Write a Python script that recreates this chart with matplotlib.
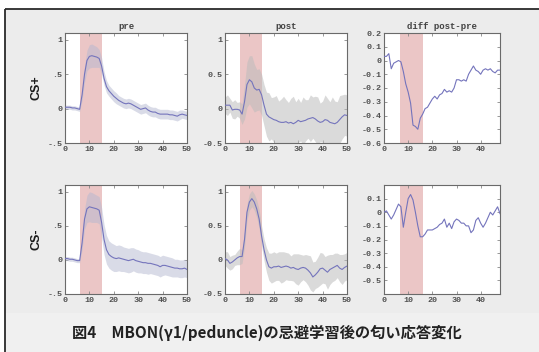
import numpy as np
import matplotlib
matplotlib.use("Agg")
import matplotlib.pyplot as plt
from matplotlib.patches import Rectangle

# ---------------- data ----------------
t = list(range(0, 51))          # time axis for pre/post panels
t_diff = list(range(0, 49))     # time axis for diff panels

pre_plus = [0.02, 0.02, 0.02, 0.01, 0.01, 0.0, -0.01, 0.2, 0.5, 0.7, 0.76, 0.77, 0.76, 0.75, 0.73,
            0.62, 0.44, 0.32, 0.26, 0.22, 0.18, 0.15, 0.12, 0.1, 0.08, 0.07, 0.08, 0.07, 0.05, 0.03,
            0.01, -0.01, 0.0, 0.01, -0.02, -0.04, -0.05, -0.05, -0.07, -0.08, -0.08, -0.08, -0.08,
            -0.09, -0.09, -0.1, -0.11, -0.09, -0.08, -0.09, -0.1]
pre_plus_sem = [0.03, 0.03, 0.03, 0.03, 0.03, 0.03, 0.03, 0.08, 0.12, 0.15, 0.17, 0.17, 0.16, 0.15,
                0.13, 0.12, 0.1, 0.09, 0.08, 0.08, 0.08, 0.08, 0.07, 0.07, 0.07, 0.07, 0.07, 0.07,
                0.07, 0.07, 0.07, 0.07, 0.07, 0.07, 0.07, 0.07, 0.07, 0.07, 0.07, 0.07, 0.07, 0.07,
                0.07, 0.07, 0.07, 0.07, 0.07, 0.07, 0.06, 0.06, 0.06]

pre_minus = [0.02, 0.02, 0.01, 0.01, 0.0, -0.01, -0.01, 0.25, 0.6, 0.75, 0.78, 0.77, 0.76, 0.75, 0.73,
             0.55, 0.3, 0.15, 0.08, 0.05, 0.03, 0.02, 0.03, 0.02, 0.01, 0.0, -0.01, 0.0, 0.01, -0.01,
             -0.02, -0.03, -0.04, -0.04, -0.05, -0.05, -0.06, -0.07, -0.08, -0.1, -0.08, -0.08, -0.09,
             -0.1, -0.11, -0.12, -0.12, -0.13, -0.13, -0.12, -0.14]
pre_minus_sem = [0.03, 0.03, 0.03, 0.03, 0.03, 0.03, 0.03, 0.1, 0.15, 0.2, 0.22, 0.22, 0.21, 0.2, 0.2,
                 0.22, 0.22, 0.21, 0.2, 0.2, 0.2, 0.19, 0.19, 0.19, 0.18, 0.18, 0.18, 0.18, 0.17, 0.17,
                 0.17, 0.16, 0.16, 0.16, 0.16, 0.15, 0.15, 0.15, 0.15, 0.15, 0.15, 0.14, 0.14, 0.14,
                 0.14, 0.13, 0.13, 0.13, 0.13, 0.13, 0.12]

post_plus = [0.05, 0.05, 0.05, -0.02, -0.01, -0.01, -0.02, -0.08, 0.1, 0.35, 0.42, 0.39, 0.3, 0.27,
             0.28, 0.2, 0.05, -0.08, -0.12, -0.14, -0.16, -0.17, -0.19, -0.2, -0.2, -0.19, -0.21,
             -0.2, -0.22, -0.2, -0.17, -0.19, -0.18, -0.17, -0.15, -0.14, -0.13, -0.15, -0.18, -0.2,
             -0.19, -0.16, -0.17, -0.2, -0.21, -0.22, -0.2, -0.16, -0.12, -0.09, -0.1]
post_plus_sem = [0.12, 0.15, 0.1, 0.12, 0.14, 0.1, 0.12, 0.15, 0.25, 0.33, 0.35, 0.38, 0.35, 0.3, 0.3,
                 0.3, 0.3, 0.32, 0.35, 0.3, 0.33, 0.36, 0.3, 0.34, 0.38, 0.32, 0.3, 0.35, 0.4, 0.3,
                 0.32, 0.28, 0.35, 0.3, 0.28, 0.34, 0.3, 0.33, 0.35, 0.28, 0.3, 0.36, 0.32, 0.3, 0.38,
                 0.33, 0.3, 0.35, 0.32, 0.3, 0.3]

post_minus = [0.02, 0.0, -0.05, -0.03, 0.0, 0.03, 0.05, 0.05, 0.3, 0.7, 0.85, 0.9, 0.85, 0.75, 0.6,
              0.35, 0.15, 0.0, -0.1, -0.12, -0.1, -0.1, -0.09, -0.11, -0.1, -0.09, -0.1, -0.12, -0.11,
              -0.13, -0.14, -0.12, -0.11, -0.12, -0.15, -0.19, -0.25, -0.22, -0.18, -0.13, -0.12,
              -0.15, -0.18, -0.14, -0.12, -0.1, -0.08, -0.12, -0.14, -0.11, -0.09]
post_minus_sem = [0.1, 0.12, 0.1, 0.1, 0.08, 0.1, 0.12, 0.1, 0.12, 0.12, 0.12, 0.12, 0.12, 0.13, 0.14,
                  0.15, 0.16, 0.18, 0.2, 0.22, 0.22, 0.2, 0.21, 0.23, 0.22, 0.2, 0.2, 0.18, 0.2, 0.22,
                  0.23, 0.2, 0.18, 0.2, 0.22, 0.25, 0.22, 0.2, 0.22, 0.24, 0.22, 0.2, 0.25, 0.22, 0.2,
                  0.2, 0.18, 0.2, 0.22, 0.2, 0.2]

diff_plus = [0.03, 0.03, 0.05, -0.06, -0.02, -0.01, 0.0, -0.01, -0.08, -0.17, -0.23, -0.31, -0.47,
             -0.48, -0.5, -0.42, -0.39, -0.35, -0.34, -0.31, -0.28, -0.26, -0.28, -0.25, -0.24,
             -0.21, -0.23, -0.22, -0.23, -0.2, -0.14, -0.14, -0.15, -0.14, -0.15, -0.1, -0.07,
             -0.04, -0.07, -0.08, -0.1, -0.07, -0.06, -0.07, -0.06, -0.08, -0.09, -0.07, -0.07]
diff_minus = [0.0, 0.01, -0.02, -0.05, -0.02, 0.02, 0.06, 0.04, -0.11, 0.0, 0.1, 0.13, 0.09, 0.0,
              -0.1, -0.18, -0.18, -0.16, -0.13, -0.13, -0.13, -0.12, -0.11, -0.09, -0.08, -0.05,
              -0.11, -0.08, -0.12, -0.07, -0.05, -0.06, -0.08, -0.08, -0.1, -0.1, -0.15, -0.13,
              -0.06, -0.04, -0.08, -0.11, -0.08, -0.04, 0.0, -0.02, 0.01, 0.04, -0.01]

odor_window = (6, 15)
odor_window_diff = (6.5, 16)
col_titles = ["pre", "post", "diff post-pre"]
row_labels = ["CS+", "CS-"]
caption = "図4　MBON(γ1/peduncle)の忌避学習後の匂い応答変化"

# ---------------- figure ----------------
W, H = 539, 352
fig = plt.figure(figsize=(W / 100, H / 100), dpi=100)

# background (screenshot frame)
bg = fig.add_axes([0, 0, 1, 1], zorder=-10)
bg.set_xlim(0, W)
bg.set_ylim(H, 0)
bg.axis("off")
bg.add_patch(Rectangle((0, 0), W, H, color="white"))
bg.add_patch(Rectangle((5, 9), W, H, color="#ececec"))
grad = np.linspace(0, 1, 256).reshape(-1, 1)
top_c = np.array([0.905, 0.905, 0.905])
bot_c = np.array([0.78, 0.78, 0.78])
img = top_c[None, None, :] * (1 - grad[:, :, None]) + bot_c[None, None, :] * grad[:, :, None]
bg.imshow(img, extent=(12, W, 313, 17), aspect="auto", interpolation="bilinear")
bg.add_patch(Rectangle((5, 313), W, H - 313, color="#f0f0f0"))
bg.plot([5, W], [9, 9], color="#2a2a2a", lw=1.3, solid_capstyle="butt")
bg.plot([5, 5], [9, H], color="#2a2a2a", lw=1.3, solid_capstyle="butt")
bg.set_xlim(0, W)
bg.set_ylim(H, 0)

mono = "Liberation Mono"
tick_col = "#505050"
line_col = "#7474bc"
span_col = "#ebc6c6"


def add_ax(l, r, top, bottom):
    return fig.add_axes([l / W, (H - bottom) / H, (r - l) / W, (bottom - top) / H])


def style(ax):
    for s in ax.spines.values():
        s.set_color("#6a6a6a")
        s.set_linewidth(0.8)
    ax.tick_params(direction="in", length=2, width=0.6, colors="#888888",
                   labelcolor=tick_col, labelsize=6, top=True, right=True, pad=2)
    for lab in ax.get_xticklabels() + ax.get_yticklabels():
        lab.set_fontfamily(mono)
        lab.set_fontweight("bold")
    ax.set_facecolor("white")


cols_x = [(65, 187), (225, 347), (384, 500)]
rows_y = [(33, 143), (185, 294)]

means = [[pre_plus, post_plus], [pre_minus, post_minus]]
sems = [[pre_plus_sem, post_plus_sem], [pre_minus_sem, post_minus_sem]]
diffs = [diff_plus, diff_minus]
band_cols = ["#b4b8d0", "#bcbcbc"]
band_alpha = [0.5, 0.55]

for r in range(2):
    top, bottom = rows_y[r]
    for c in range(2):
        ax = add_ax(cols_x[c][0], cols_x[c][1], top, bottom)
        m = np.array(means[r][c])
        s = np.array(sems[r][c])
        ax.axvspan(*odor_window, color=span_col, lw=0, zorder=1)
        ax.fill_between(t, m - s, m + s, color=band_cols[c], alpha=band_alpha[c], lw=0, zorder=2)
        ax.plot(t, m, color=line_col, lw=0.8, zorder=3)
        ax.set_xlim(0, 50)
        ax.set_ylim(-0.5, 1.1)
        ax.set_xticks([0, 10, 20, 30, 40, 50])
        ax.set_yticks([-0.5, 0, 0.5, 1])
        if c == 0:
            ax.set_yticklabels(["-.5", "0", ".5", "1"])
        else:
            ax.set_yticklabels(["-0.5", "0", "0.5", "1"])
        style(ax)
        if r == 0:
            ax.set_title(col_titles[c], fontsize=6.5, family=mono, fontweight="bold",
                         color="#444444", pad=3)
    # diff panel
    ax = add_ax(cols_x[2][0], cols_x[2][1], top, bottom)
    ax.axvspan(*odor_window_diff, color=span_col, lw=0, zorder=1)
    ax.plot(t_diff, diffs[r], color=line_col, lw=0.8, zorder=3)
    ax.set_xlim(0, 48)
    ax.set_ylim(-0.6, 0.2)
    ax.set_xticks([0, 10, 20, 30, 40])
    if r == 0:
        yt = [-0.6, -0.5, -0.4, -0.3, -0.2, -0.1, 0, 0.1, 0.2]
    else:
        yt = [-0.5, -0.4, -0.3, -0.2, -0.1, 0, 0.1]
    ax.set_yticks(yt)
    ax.set_yticklabels(["0" if v == 0 else f"{v:.1f}" for v in yt])
    style(ax)
    if r == 0:
        ax.set_title(col_titles[2], fontsize=6.5, family=mono, fontweight="bold",
                     color="#444444", pad=3)
    # row label
    fig.text(36 / W, 1 - ((top + bottom) / 2) / H, row_labels[r], rotation=90,
             ha="center", va="center", fontsize=9, fontweight="heavy",
             family="Liberation Sans", color="#1a1a1a")

fig.text(267 / W, 1 - 333 / H, caption, ha="center", va="center", fontsize=11,
         fontweight="bold", family=["Noto Sans CJK JP", "DejaVu Sans"], color="#222222")

fig.savefig("out.png", dpi=100)
